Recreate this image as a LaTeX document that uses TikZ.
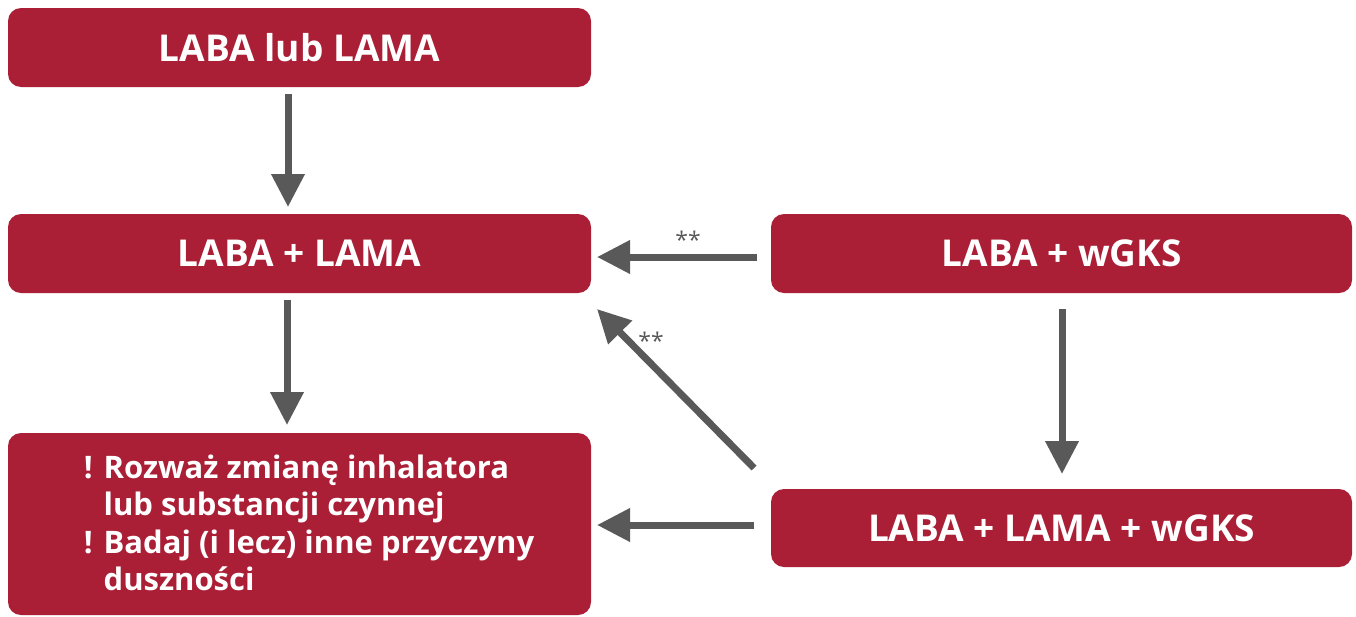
\documentclass[tikz,border=0pt]{standalone}
\usepackage{fontspec}
\setmainfont{Open Sans}
\usetikzlibrary{arrows.meta}
\definecolor{boxred}{RGB}{170,30,54}
\definecolor{arrgray}{RGB}{89,89,89}
\begin{document}
\begin{tikzpicture}[x=1pt,y=-1pt,
  box/.style={fill=boxred,rounded corners=13pt,text=white,font=\bfseries\fontsize{37}{42}\selectfont,inner sep=0pt},
  arr/.style={draw=arrgray,line width=7pt,-{Triangle[width=32pt,length=33pt]}},
  star/.style={text=arrgray,font=\fontsize{23}{23}\selectfont}]
\useasboundingbox (0,0) rectangle (1356,616);
\node[box,minimum width=583pt,minimum height=79pt] (b1) at (299.5,47.5) {LABA lub LAMA};
\node[box,minimum width=583pt,minimum height=79pt] (b2) at (299.5,253.5) {LABA + LAMA};
\node[box,minimum width=581pt,minimum height=79pt] (b4) at (1061.5,253.5) {LABA + wGKS};
\node[box,minimum width=581pt,minimum height=78pt] (b5) at (1061.5,528) {LABA + LAMA + wGKS};
\node[box,minimum width=583pt,minimum height=182pt] (b3) at (299.5,524) {};
\node[text=white,font=\bfseries\fontsize{31}{38}\selectfont,inner sep=0pt,anchor=center] (t3) at (309,527) {%
  \begin{tabular}{@{}l@{\hspace{11pt}}l@{}}
  ! & Rozważ zmianę inhalatora\\[-0.5pt]
    & lub substancji czynnej\\[-0.5pt]
  ! & Badaj (i lecz) inne przyczyny\\[-0.5pt]
    & duszności
  \end{tabular}};
\coordinate (a1s) at (288,94);
\coordinate (a1e) at (288,207);
\coordinate (a2s) at (287,300);
\coordinate (a2e) at (287,425);
\coordinate (a3s) at (757,257);
\coordinate (a3e) at (597,257);
\coordinate (a4s) at (754,468);
\coordinate (a4e) at (597,309);
\coordinate (a5s) at (1062,309);
\coordinate (a5e) at (1062,474);
\coordinate (a6s) at (754,525);
\coordinate (a6e) at (597,525);
\draw[arr] (a1s) -- (a1e);
\draw[arr] (a2s) -- (a2e);
\draw[arr] (a3s) -- (a3e);
\draw[arr] (a4s) -- (a4e);
\draw[arr] (a5s) -- (a5e);
\draw[arr] (a6s) -- (a6e);
\node[star] (s1) at (688,240) {**};
\node[star] (s2) at (651,341) {**};
\end{tikzpicture}
\end{document}
